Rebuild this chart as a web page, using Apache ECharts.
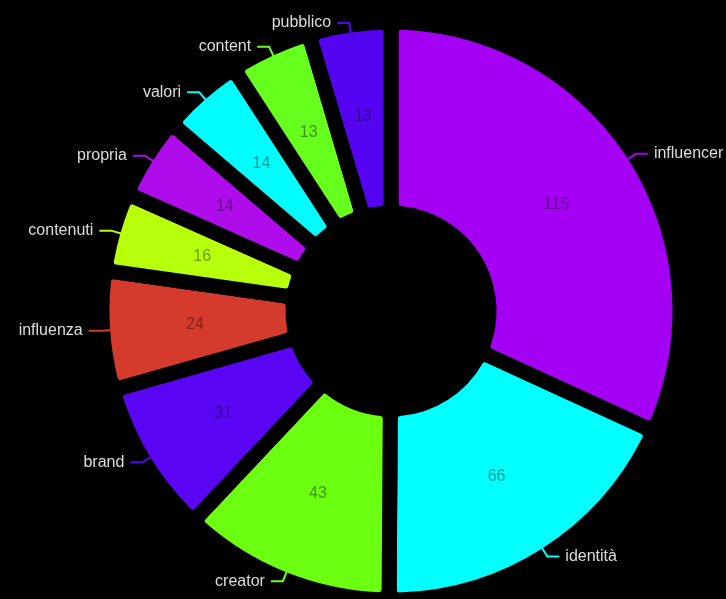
<!DOCTYPE html>
<html>
<head>
<meta charset="utf-8">
<script src="https://cdn.jsdelivr.net/npm/echarts@6/dist/echarts.min.js"></script>
<style>
  html, body { margin: 0; padding: 0; background: #000; }
  #main-chart { width: 726px; height: 599px; }
</style>
</head>
<body>
<div id="main-chart"></div>
<script>
const categories = ["influencer", "identità", "creator", "brand", "influenza", "contenuti", "propria", "valori", "content", "pubblico"];
const values = [115, 66, 43, 31, 24, 16, 14, 14, 13, 13];
const colors = ["#a400f4", "#00ffff", "#6cff12", "#5a06f4", "#d43b2c", "#b8ff0c", "#ae0cea", "#00fcfc", "#66ff1e", "#5504f2"];

// darker shade of the slice colour for the value printed inside it
function shade(hex, k) {
  const n = parseInt(hex.slice(1), 16);
  const r = Math.round(((n >> 16) & 255) * k);
  const g = Math.round(((n >> 8) & 255) * k);
  const b = Math.round((n & 255) * k);
  return `rgb(${r},${g},${b})`;
}

const chart = echarts.init(document.getElementById("main-chart"));

const center = [391, 311];
// small slices in the original get a little extra room
const minAngle = 16.5;

chart.setOption({
  backgroundColor: "#000",
  animation: false,
  series: [
    {
      type: "pie",
      z: 2,
      center,
      radius: [98, 289],
      startAngle: 90,
      clockwise: true,
      minAngle,
      itemStyle: { borderColor: "#000", borderWidth: 15, borderRadius: 10 },
      label: { position: "inside", fontSize: 16, fontFamily: "Liberation Sans" },
      labelLine: { show: false },
      data: categories.map((name, i) => ({
        name,
        value: values[i],
        itemStyle: { color: colors[i] },
        label: { color: shade(colors[i], 0.6), formatter: String(values[i]) }
      }))
    },
    {
      // outer names only; sectors are see-through so the lines sit on top
      type: "pie",
      z: 5,
      center,
      radius: [98, 281],
      startAngle: 90,
      clockwise: true,
      minAngle,
      silent: true,
      itemStyle: { color: "transparent", borderWidth: 0 },
      label: {
        position: "outside",
        color: "#dddddd",
        fontSize: 16,
        fontFamily: "Liberation Sans",
        overflow: "none",
        distanceToLabelLine: 6
      },
      labelLine: { length: 10, length2: 12, smooth: false, lineStyle: { width: 2 } },
      data: categories.map((name, i) => ({
        name,
        value: values[i],
        labelLine: { lineStyle: { color: colors[i] } }
      }))
    }
  ]
});
</script>
</body>
</html>
